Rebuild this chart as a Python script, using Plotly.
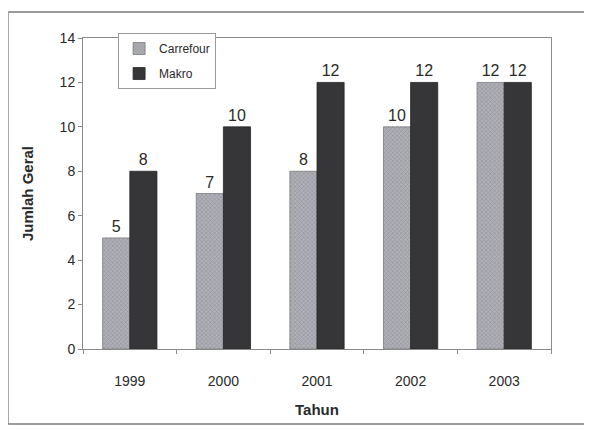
import plotly.graph_objects as go

years = ["1999", "2000", "2001", "2002", "2003"]
carrefour = [5, 7, 8, 10, 12]
makro = [8, 10, 12, 12, 12]
y_ticks = [0, 2, 4, 6, 8, 10, 12, 14]

fig = go.Figure()
fig.add_trace(go.Bar(
    name="Carrefour", x=years, y=carrefour, legendgroup="c",
    text=carrefour, textposition="outside",
    textfont=dict(size=16, color="#2a2a2a"),
    marker=dict(color="#b0b0b8", line=dict(color="#7a7a80", width=0.8),
                pattern=dict(shape="x", size=3, fgcolor="#6e6e76", solidity=0.35)),
    cliponaxis=False,
))
fig.add_trace(go.Bar(
    name="Makro", x=years, y=makro, legendgroup="m",
    text=makro, textposition="outside",
    textfont=dict(size=16, color="#2a2a2a"),
    marker=dict(color="#363638", line=dict(color="#262626", width=0.8)),
    cliponaxis=False,
))

fig.update_layout(
    width=592, height=430,
    margin=dict(l=75, r=49, t=30, b=89),
    paper_bgcolor="white", plot_bgcolor="white",
    barmode="group", bargap=0.42, bargroupgap=0,
    font=dict(family="Liberation Sans, Arial, sans-serif", color="#2a2a2a"),
    showlegend=True,
    legend=dict(x=0.075, y=1.016, xanchor="left", yanchor="top",
                bgcolor="white", bordercolor="#9a9a9a", borderwidth=1,
                font=dict(size=12, family="Liberation Sans Narrow, Arial Narrow, sans-serif"),
                itemwidth=30, traceorder="grouped", tracegroupgap=6),
    xaxis=dict(title=dict(text="<b>Tahun</b>", font=dict(size=15), standoff=16),
               tickfont=dict(size=14), ticklabelstandoff=19,
               showline=True, linecolor="#8a8a8a", mirror=True,
               ticks="outside", ticklen=4, tickcolor="#8a8a8a", tickson="boundaries",
               showgrid=False),
    yaxis=dict(title=dict(text="<b>Jumlah Geral</b>", font=dict(size=15), standoff=22),
               range=[0, 14], tickvals=y_ticks, tickfont=dict(size=14),
               showline=True, linecolor="#8a8a8a", mirror=True,
               ticks="outside", ticklen=4, tickcolor="#8a8a8a",
               showgrid=False, zeroline=False),
    shapes=[
        dict(type="line", xref="paper", yref="paper", x0=-0.16, x1=1.12, y0=1.084, y1=1.084,
             line=dict(color="#7a7a7a", width=1.5)),
        dict(type="line", xref="paper", yref="paper", x0=-0.16, x1=-0.16, y0=-0.241, y1=1.084,
             line=dict(color="#9a9a9a", width=1.5)),
        dict(type="line", xref="paper", yref="paper", x0=-0.16, x1=1.12, y0=-0.241, y1=-0.241,
             line=dict(color="#7a7a7a", width=1.5)),
    ],
)

fig.write_html("out.html")
